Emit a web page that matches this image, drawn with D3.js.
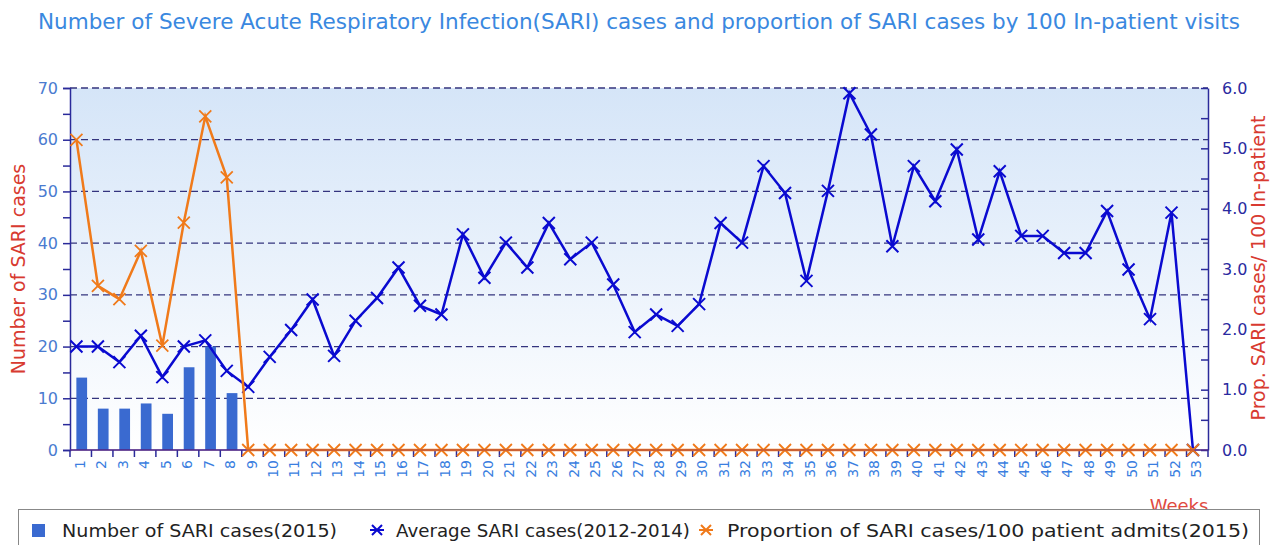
<!DOCTYPE html>
<html><head><meta charset="utf-8">
<script src="https://cdn.jsdelivr.net/npm/d3@7"></script>
<style>body{margin:0;background:#fff;overflow:hidden}svg{display:block;font-family:"DejaVu Sans",sans-serif}</style>
</head><body><svg id="c" width="1278" height="545"></svg>
<script>
const weeks = d3.range(1, 54);
const cases2015 = [14, 8, 8, 9, 7, 16, 20, 11];
const avgCases = [20, 20, 17, 22.1, 14.1, 20, 21.2, 15.3, 12.2, 18, 23.2, 29.1, 18.2, 25, 29.4, 35.3, 27.9, 26.2, 41.7, 33.3, 40.1, 35.3, 43.9, 36.9, 40.1, 32, 22.8, 26.2, 24, 28.2, 43.9, 40.1, 54.9, 49.7, 32.7, 50.1, 69, 61, 39.4, 54.9, 48.1, 58.1, 40.7, 53.9, 41.4, 41.4, 38.1, 38.1, 46.2, 34.9, 25.3, 45.9, 0];
const propCases = [5.14, 2.72, 2.5, 3.3, 1.73, 3.77, 5.53, 4.52, 0, 0, 0, 0, 0, 0, 0, 0, 0, 0, 0, 0, 0, 0, 0, 0, 0, 0, 0, 0, 0, 0, 0, 0, 0, 0, 0, 0, 0, 0, 0, 0, 0, 0, 0, 0, 0, 0, 0, 0, 0, 0, 0, 0, 0];
const leftTicks = [0, 10, 20, 30, 40, 50, 60, 70];
const rightTicks = [0, 1, 2, 3, 4, 5, 6];
const titleText = "Number of Severe Acute Respiratory Infection(SARI) cases and proportion of SARI cases by 100 In-patient visits";
const legendItems = ["Number of SARI cases(2015)", "Average SARI cases(2012-2014)", "Proportion of SARI cases/100 patient admits(2015)"];

const svg = d3.select("#c");
const L = 70, R = 1208, T = 88, B = 450;
const x = d3.scaleBand().domain(weeks).range([L, R]).paddingInner(0).paddingOuter(0);
const yL = d3.scaleLinear().domain([0, 70]).range([B, T]);
const yR = d3.scaleLinear().domain([0, 6]).range([B, T]);
const px = w => x(w) + x.bandwidth() * 0.3;

const defs = svg.append("defs");
const g = defs.append("linearGradient").attr("id", "bg").attr("x1", 0).attr("y1", 0).attr("x2", 0).attr("y2", 1);
g.append("stop").attr("offset", "0%").attr("stop-color", "#d5e5f8");
g.append("stop").attr("offset", "100%").attr("stop-color", "#ffffff");
svg.append("rect").attr("x", L).attr("y", T).attr("width", R - L).attr("height", B - T).attr("fill", "url(#bg)");

// title
svg.append("text").attr("x", 38).attr("y", 29)
  .attr("textLength", 1202).attr("lengthAdjust", "spacingAndGlyphs")
  .attr("fill", "#3a88e0").style("font-size", "20.5px").text(titleText);

// grid
svg.append("g").selectAll("line").data(leftTicks.filter(d => d > 0)).join("line")
  .attr("x1", L).attr("x2", R).attr("y1", d => yL(d)).attr("y2", d => yL(d))
  .attr("stroke", "#34347e").attr("stroke-width", 1.3).attr("stroke-dasharray", "7,4");

// bars
svg.append("g").selectAll("rect").data(cases2015).join("rect")
  .attr("x", (d, i) => x(weeks[i]) + x.bandwidth() * 0.25 + 1)
  .attr("width", x.bandwidth() * 0.5)
  .attr("y", d => yL(d)).attr("height", d => B - yL(d))
  .attr("fill", "#3a6ad0");

// left axis
const axL = svg.append("g").attr("transform", `translate(${L},0)`)
  .call(d3.axisLeft(yL).tickValues(d3.range(0, 71, 5)).tickSize(7).tickPadding(5)
    .tickFormat(d => d % 10 === 0 ? d : ""));
axL.select(".domain").attr("stroke", "#2a2a9a").attr("stroke-width", 1.5);
axL.selectAll(".tick line").attr("stroke", "#2a2a9a").attr("stroke-width", 1.5);
axL.selectAll("text").attr("fill", "#4a7bd0").style("font-size", "16px").style("font-family", "DejaVu Sans");

// right axis
const axR = svg.append("g").attr("transform", `translate(${R},0)`)
  .call(d3.axisRight(yR).tickValues(d3.range(0, 6.01, 0.5)).tickSizeInner(-7).tickSizeOuter(0).tickPadding(14)
    .tickFormat(d => Number.isInteger(d) ? d3.format(".1f")(d) : ""));
axR.select(".domain").attr("stroke", "#2a2a9a").attr("stroke-width", 1.5);
axR.selectAll(".tick line").attr("stroke", "#2a2a9a").attr("stroke-width", 1.5);
axR.selectAll("text").attr("fill", "#2a2aa0").style("font-size", "16px").style("font-family", "DejaVu Sans");

// bottom axis
const axB = svg.append("g").attr("transform", `translate(0,${B})`);
axB.append("line").attr("x1", L).attr("x2", R).attr("y1", 0).attr("y2", 0).attr("stroke", "#3a2a9a").attr("stroke-width", 1.5);
axB.selectAll("line.t").data(d3.range(0, 54)).join("line").attr("class", "t")
  .attr("x1", i => L + i * x.bandwidth()).attr("x2", i => L + i * x.bandwidth())
  .attr("y1", 0).attr("y2", 7).attr("stroke", "#2a2a9a").attr("stroke-width", 1.5);
axB.selectAll("text").data(weeks).join("text")
  .attr("transform", w => `translate(${x(w) + x.bandwidth() / 2 + 4},10) rotate(-90)`)
  .attr("text-anchor", "end").attr("fill", "#3a7ee0").style("font-size", "14px").text(w => w);

// lines
const xMark = (sel, color, sw) => sel.append("path")
  .attr("d", "M-6,-6L6,6M-6,6L6,-6").attr("stroke", color).attr("stroke-width", sw).attr("fill", "none");

const lineAvg = d3.line().x((d, i) => px(weeks[i])).y(d => yL(d));
svg.append("path").datum(avgCases).attr("d", lineAvg).attr("fill", "none").attr("stroke", "#0a0ad0").attr("stroke-width", 2.5);
svg.append("g").selectAll("g").data(avgCases).join("g")
  .attr("transform", (d, i) => `translate(${px(weeks[i])},${yL(d)})`)
  .call(s => xMark(s, "#0a0ad0", 2));

const lineProp = d3.line().x((d, i) => px(weeks[i])).y(d => yR(d));
svg.append("path").datum(propCases).attr("d", lineProp).attr("fill", "none").attr("stroke", "#f07a1a").attr("stroke-width", 2.5);
svg.append("g").selectAll("g").data(propCases).join("g")
  .attr("transform", (d, i) => `translate(${px(weeks[i])},${yR(d)})`)
  .call(s => xMark(s, "#f07a1a", 1.8));
svg.append("line").attr("x1", L).attr("x2", R).attr("y1", B).attr("y2", B).attr("stroke", "#7a2a6a").attr("stroke-width", 1).attr("opacity", 0.6);

// axis titles
svg.append("text").attr("transform", `translate(25,269) rotate(-90)`).attr("text-anchor", "middle")
  .attr("fill", "#d83a30").style("font-size", "19px").text("Number of SARI cases");
svg.append("text").attr("transform", `translate(1265,268) rotate(-90)`).attr("text-anchor", "middle")
  .attr("fill", "#d83a30").style("font-size", "19px").text("Prop. SARI cases/ 100 In-patient");
svg.append("text").attr("x", 1179).attr("y", 512).attr("text-anchor", "middle")
  .attr("fill", "#e04a40").style("font-size", "18px").text("Weeks");

// legend
const lg = svg.append("g");
lg.append("rect").attr("x", 18.5).attr("y", 509.5).attr("width", 1241).attr("height", 50)
  .attr("fill", "#fff").attr("stroke", "#888").attr("stroke-width", 1);
lg.append("rect").attr("x", 32).attr("y", 524).attr("width", 13).attr("height", 13).attr("fill", "#3a6ad0");
const legX = [62, 396, 727];
const legW = [275, 294, 522];
lg.selectAll("text").data(legendItems).join("text")
  .attr("x", (d, i) => legX[i]).attr("y", 537).attr("fill", "#222")
  .attr("textLength", (d, i) => legW[i]).attr("lengthAdjust", "spacingAndGlyphs")
  .style("font-size", "18.5px").text(d => d);
const l2 = lg.append("g").attr("transform", "translate(377,530)");
l2.append("line").attr("x1", -7).attr("x2", 7).attr("stroke", "#0a0ad0").attr("stroke-width", 2);
l2.append("path").attr("d", "M-5,-5L5,5M-5,5L5,-5").attr("stroke", "#0a0ad0").attr("stroke-width", 2);
const l3 = lg.append("g").attr("transform", "translate(706,530)");
l3.append("line").attr("x1", -7).attr("x2", 7).attr("stroke", "#f07a1a").attr("stroke-width", 2);
l3.append("path").attr("d", "M-5,-5L5,5M-5,5L5,-5").attr("stroke", "#f07a1a").attr("stroke-width", 2);
</script></body></html>
